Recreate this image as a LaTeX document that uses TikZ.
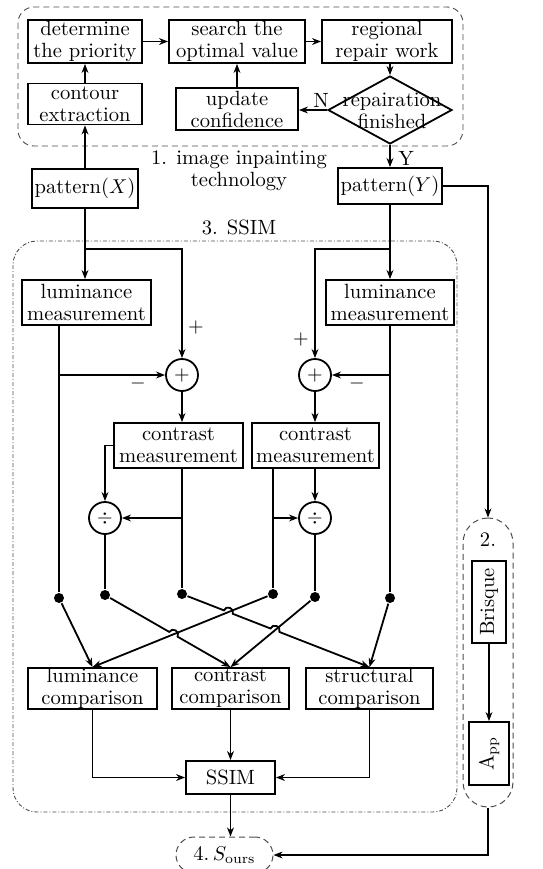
\documentclass[tikz,border=0pt]{standalone}
\usetikzlibrary{arrows.meta,calc,intersections,shapes.geometric}
\begin{document}
\begin{tikzpicture}[x=0.5pt,y=-0.5pt,
  font=\fontsize{10.3}{11}\selectfont,
  line width=0.9pt,
  arr/.style={-{Stealth[length=4.5pt,width=3.4pt,inset=1.4pt]}},
  sz/.style 2 args={minimum width=#1*0.5pt,minimum height=#2*0.5pt},
  bx/.style={draw,rectangle,inner sep=0pt,align=center},
  rnd/.style={draw,circle,inner sep=0pt,minimum size=16pt},
  dot/.style={circle,fill,inner sep=0pt,minimum size=5pt},
  frame/.style={draw=black!70,line width=0.45pt},
  jump/.style={bend left=90,looseness=1.6}]
\clip (0,0) rectangle (542,869);

% ---------- 1. image inpainting ----------
\draw[frame,dash pattern=on 3pt off 2pt,rounded corners=8pt] (18,7) rectangle (463,146);
\node[bx,sz={114}{43}] (pri)  at (85,41.5)  {determine\\the priority};
\node[bx,sz={136}{43}] (srch) at (237,41.5) {search the\\optimal value};
\node[bx,sz={130}{43}] (reg)  at (387,41.5) {regional\\repair work};
\node[bx,sz={114}{41}] (cont) at (85,104)   {contour\\extraction};
\node[bx,sz={122}{42}] (upd)  at (237,109)  {update\\confidence};
\node[draw,diamond,inner sep=0pt,sz={124}{68}] (dia) at (390,110) {};
\node[align=center] (diat) at (392,111) {repairation\\finished};
\node (nlab) at (321,100) {N};
\node (ylab) at (406,158) {Y};
\node[align=center] (tech) at (239,171) {1. image inpainting\\technology};

\draw[arr] (pri) -- (srch);
\draw[arr] (srch) -- (reg);
\draw[arr] (reg.south -| dia) -- (dia.north);
\draw[arr] (dia.west) -- (dia.west -| upd.east);
\draw[arr] (upd) -- (srch);
\draw[arr] (cont) -- (pri);

% ---------- inputs ----------
\node[bx,sz={106}{39}] (pX) at (85,188.5) {pattern($X$)};
\node[bx,sz={104}{36}] (pY) at (390,186)  {pattern($Y$)};
\draw[arr] (pX) -- (cont);
\draw[arr] (dia.south) -- (dia.south |- pY.north);

% ---------- 3. SSIM ----------
\node (ssimlbl) at (239,227) {3. SSIM};
\draw[frame,dash pattern=on 2pt off 1pt on 0.5pt off 1pt,rounded corners=12pt] (13,241) rectangle (457,812);

\node[bx,sz={129}{45}] (lmL) at (86.5,302.5) {luminance\\measurement};
\node[bx,sz={128}{45}] (lmR) at (390,302.5)  {luminance\\measurement};
\node[rnd] (plL) at (182,375) {$+$};
\node[rnd] (plR) at (315,375) {$+$};
\node[bx,sz={129}{45}] (cmL) at (178.5,445.5) {contrast\\measurement};
\node[bx,sz={127}{45}] (cmR) at (315.5,445.5) {contrast\\measurement};
\node[rnd] (dvL) at (105,518) {$\div$};
\node[rnd] (dvR) at (315,518) {$\div$};

\node (pl1) at (196,327) {$+$};
\node (pl2) at (301,339) {$+$};
\node (mi1) at (138,383) {$-$};
\node (mi2) at (357,383) {$-$};

\node[dot] (d1) at (59,598) {};
\node[dot] (d2) at (105,595) {};
\node[dot] (d3) at (182,594) {};
\node[dot] (d4) at (273,594) {};
\node[dot] (d5) at (315,597) {};
\node[dot] (d6) at (390,598) {};

\node[bx,sz={129}{41}] (lc) at (92.5,688.5)  {luminance\\comparison};
\node[bx,sz={117}{41}] (cc) at (230.5,688.5) {contrast\\comparison};
\node[bx,sz={127}{41}] (sc) at (369.5,688.5) {structural\\comparison};
\node[bx,sz={89}{33}] (ssim) at (230.5,777.5) {SSIM};

% inputs into the measurements
\coordinate (bX) at (85,249);
\coordinate (bY) at (390,249);
\draw[arr] (pX.south) -- (pX.south |- lmL.north);
\draw[arr] (bX) -| (plL.north);
\draw[arr] (pY.south) -- (pY.south |- lmR.north);
\draw[arr] (bY) -| (plR.north);

% luminance branches
\draw (lmL.south -| d1) -- (d1);
\draw[arr] (d1 |- plL) -- (plL.west);
\draw (lmR.south -| d6) -- (d6);
\draw[arr] (d6 |- plR) -- (plR.east);

% contrast measurement
\draw[arr] (plL.south) -- (plL.south |- cmL.north);
\draw[arr] (plR.south) -- (plR.south |- cmR.north);
\draw[arr] (cmL.west) -| (dvL.north);
\draw (cmL.south -| d3) -- (d3);
\draw[arr] (d3 |- dvL) -- (dvL.east);
\draw (cmR.south -| d4) -- (d4);
\draw[arr] (d4 |- dvR) -- (dvR.west);
\draw[arr] (cmR.south -| dvR) -- (dvR.north);
\draw (dvL) -- (d2);
\draw (dvR) -- (d5);

% crossing connectors into the comparisons
\path[name path=pA] (d4) -- (lc.north);
\path[name path=pB] (d5) -- (cc.north);
\path[name path=pC] (d2) -- (cc.north);
\path[name path=pD] (d3) -- (sc.north);
\path[name intersections={of=pC and pA,by=j1}];
\path[name intersections={of=pD and pA,by=j2}];
\path[name intersections={of=pD and pB,by=j3}];

\draw[arr] (d1) -- (lc.north);
\draw[arr] (d4) -- (lc.north);
\draw[arr] (d5) -- (cc.north);
\draw[arr] (d6) -- (sc.north);
\draw[arr] (d2) -- ($(j1)!2.4pt!(d2)$) to[jump] ($(j1)!2.4pt!(cc.north)$) -- (cc.north);
\draw[arr] (d3) -- ($(j2)!2.4pt!(d3)$) to[jump] ($(j2)!2.4pt!(sc.north)$)
  -- ($(j3)!2.4pt!(d3)$) to[jump] ($(j3)!2.4pt!(sc.north)$) -- (sc.north);

% into SSIM
\draw[arr] (lc.south) |- (ssim.west);
\draw[arr] (cc) -- (ssim);
\draw[arr] (sc.south) |- (ssim.east);

% ---------- 2. Brisque ----------
\node[draw=black!70,line width=0.5pt,dash pattern=on 3pt off 2pt,rounded corners=12.5pt,sz={50}{289}] (q2) at (488,662.5) {};
\node (q2lbl) at (488,540) {2.};
\node[bx,rotate=90,sz={82}{34}] (bri) at (489,602) {Brisque};
\node[bx,rotate=90,sz={63}{40}] (app) at (489,753.5) {A$_{\mathrm{pp}}$};
\draw[arr] (bri) -- (app);
\draw[arr] (pY.east) -| (q2.north);

% ---------- 4. result ----------
\node[draw=black!70,line width=0.5pt,dash pattern=on 3pt off 2pt,rounded corners=9pt,sz={97}{36}] (sou) at (224.5,855) {4.\,$S_{\mathrm{ours}}$};
\draw[arr] (ssim.south) -- (ssim.south |- sou.north);
\draw[arr] (q2.south) |- (sou.east);
\end{tikzpicture}
\end{document}
